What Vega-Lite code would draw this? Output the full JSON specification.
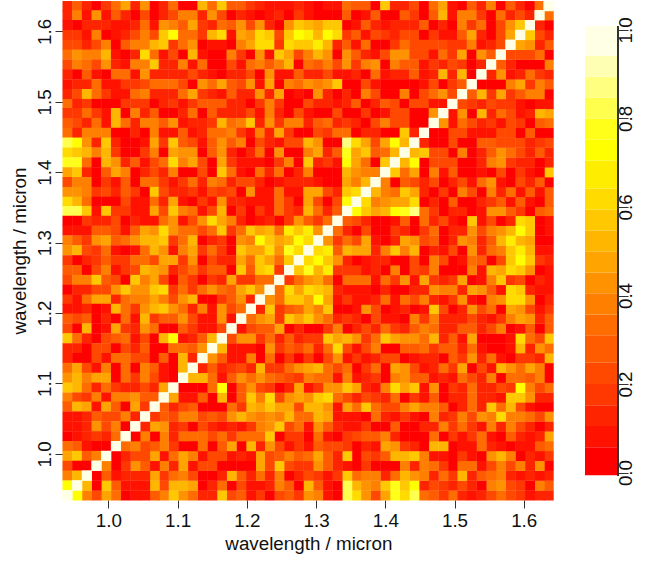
{"$schema":"https://vega.github.io/schema/vega-lite/v6.json","background":"white","padding":{"left":10,"top":1,"right":0,"bottom":0},"config":{"view":{"stroke":null},"font":"Liberation Sans"},"spacing":31,"hconcat":[{"width":490.7,"height":499,"data":{"values":[
{"a":941,"b":1636,"r":13},{"a":955,"b":1636,"r":28},{"a":969,"b":1636,"r":13},{"a":983,"b":1636,"r":3},{"a":997,"b":1636,"r":18},{"a":1011,"b":1636,"r":33},{"a":1025,"b":1636,"r":47},{"a":1039,"b":1636,"r":13},{"a":1053,"b":1636,"r":43},{"a":1067,"b":1636,"r":3},{"a":1080,"b":1636,"r":13},{"a":1094,"b":1636,"r":33},{"a":1108,"b":1636,"r":3},{"a":1122,"b":1636,"r":3},{"a":1136,"b":1636,"r":52},{"a":1150,"b":1636,"r":33},{"a":1164,"b":1636,"r":57},{"a":1178,"b":1636,"r":28},{"a":1192,"b":1636,"r":28},{"a":1206,"b":1636,"r":18},{"a":1219,"b":1636,"r":13},{"a":1233,"b":1636,"r":8},{"a":1247,"b":1636,"r":8},{"a":1261,"b":1636,"r":8},{"a":1275,"b":1636,"r":13},{"a":1289,"b":1636,"r":8},{"a":1303,"b":1636,"r":3},{"a":1317,"b":1636,"r":8},{"a":1331,"b":1636,"r":8},{"a":1345,"b":1636,"r":33},{"a":1358,"b":1636,"r":28},{"a":1372,"b":1636,"r":28},{"a":1386,"b":1636,"r":3},{"a":1400,"b":1636,"r":57},{"a":1414,"b":1636,"r":13},{"a":1428,"b":1636,"r":13},{"a":1442,"b":1636,"r":22},{"a":1456,"b":1636,"r":3},{"a":1470,"b":1636,"r":33},{"a":1484,"b":1636,"r":47},{"a":1497,"b":1636,"r":8},{"a":1511,"b":1636,"r":3},{"a":1525,"b":1636,"r":28},{"a":1539,"b":1636,"r":13},{"a":1553,"b":1636,"r":38},{"a":1567,"b":1636,"r":3},{"a":1581,"b":1636,"r":28},{"a":1595,"b":1636,"r":13},{"a":1609,"b":1636,"r":3},{"a":1623,"b":1636,"r":33},{"a":1636,"b":1636,"r":100},
{"a":941,"b":1623,"r":13},{"a":955,"b":1623,"r":38},{"a":969,"b":1623,"r":8},{"a":983,"b":1623,"r":43},{"a":997,"b":1623,"r":8},{"a":1011,"b":1623,"r":28},{"a":1025,"b":1623,"r":13},{"a":1039,"b":1623,"r":3},{"a":1053,"b":1623,"r":22},{"a":1067,"b":1623,"r":3},{"a":1080,"b":1623,"r":13},{"a":1094,"b":1623,"r":22},{"a":1108,"b":1623,"r":38},{"a":1122,"b":1623,"r":38},{"a":1136,"b":1623,"r":13},{"a":1150,"b":1623,"r":43},{"a":1164,"b":1623,"r":22},{"a":1178,"b":1623,"r":3},{"a":1192,"b":1623,"r":13},{"a":1206,"b":1623,"r":8},{"a":1219,"b":1623,"r":3},{"a":1233,"b":1623,"r":8},{"a":1247,"b":1623,"r":13},{"a":1261,"b":1623,"r":3},{"a":1275,"b":1623,"r":18},{"a":1289,"b":1623,"r":8},{"a":1303,"b":1623,"r":3},{"a":1317,"b":1623,"r":3},{"a":1331,"b":1623,"r":3},{"a":1345,"b":1623,"r":28},{"a":1358,"b":1623,"r":3},{"a":1372,"b":1623,"r":8},{"a":1386,"b":1623,"r":28},{"a":1400,"b":1623,"r":3},{"a":1414,"b":1623,"r":3},{"a":1428,"b":1623,"r":28},{"a":1442,"b":1623,"r":18},{"a":1456,"b":1623,"r":3},{"a":1470,"b":1623,"r":28},{"a":1484,"b":1623,"r":52},{"a":1497,"b":1623,"r":8},{"a":1511,"b":1623,"r":38},{"a":1525,"b":1623,"r":38},{"a":1539,"b":1623,"r":18},{"a":1553,"b":1623,"r":3},{"a":1567,"b":1623,"r":33},{"a":1581,"b":1623,"r":13},{"a":1595,"b":1623,"r":22},{"a":1609,"b":1623,"r":13},{"a":1623,"b":1623,"r":100},
{"a":941,"b":1609,"r":8},{"a":955,"b":1609,"r":3},{"a":969,"b":1609,"r":13},{"a":983,"b":1609,"r":13},{"a":997,"b":1609,"r":13},{"a":1011,"b":1609,"r":8},{"a":1025,"b":1609,"r":8},{"a":1039,"b":1609,"r":13},{"a":1053,"b":1609,"r":33},{"a":1067,"b":1609,"r":8},{"a":1080,"b":1609,"r":43},{"a":1094,"b":1609,"r":38},{"a":1108,"b":1609,"r":28},{"a":1122,"b":1609,"r":47},{"a":1136,"b":1609,"r":18},{"a":1150,"b":1609,"r":13},{"a":1164,"b":1609,"r":33},{"a":1178,"b":1609,"r":28},{"a":1192,"b":1609,"r":43},{"a":1206,"b":1609,"r":22},{"a":1219,"b":1609,"r":43},{"a":1233,"b":1609,"r":13},{"a":1247,"b":1609,"r":3},{"a":1261,"b":1609,"r":43},{"a":1275,"b":1609,"r":57},{"a":1289,"b":1609,"r":52},{"a":1303,"b":1609,"r":47},{"a":1317,"b":1609,"r":57},{"a":1331,"b":1609,"r":57},{"a":1345,"b":1609,"r":3},{"a":1358,"b":1609,"r":8},{"a":1372,"b":1609,"r":28},{"a":1386,"b":1609,"r":13},{"a":1400,"b":1609,"r":8},{"a":1414,"b":1609,"r":13},{"a":1428,"b":1609,"r":13},{"a":1442,"b":1609,"r":13},{"a":1456,"b":1609,"r":28},{"a":1470,"b":1609,"r":3},{"a":1484,"b":1609,"r":13},{"a":1497,"b":1609,"r":3},{"a":1511,"b":1609,"r":38},{"a":1525,"b":1609,"r":18},{"a":1539,"b":1609,"r":33},{"a":1553,"b":1609,"r":3},{"a":1567,"b":1609,"r":22},{"a":1581,"b":1609,"r":43},{"a":1595,"b":1609,"r":57},{"a":1609,"b":1609,"r":100},
{"a":941,"b":1595,"r":18},{"a":955,"b":1595,"r":18},{"a":969,"b":1595,"r":8},{"a":983,"b":1595,"r":38},{"a":997,"b":1595,"r":3},{"a":1011,"b":1595,"r":8},{"a":1025,"b":1595,"r":13},{"a":1039,"b":1595,"r":22},{"a":1053,"b":1595,"r":38},{"a":1067,"b":1595,"r":22},{"a":1080,"b":1595,"r":57},{"a":1094,"b":1595,"r":73},{"a":1108,"b":1595,"r":33},{"a":1122,"b":1595,"r":33},{"a":1136,"b":1595,"r":18},{"a":1150,"b":1595,"r":52},{"a":1164,"b":1595,"r":62},{"a":1178,"b":1595,"r":8},{"a":1192,"b":1595,"r":47},{"a":1206,"b":1595,"r":43},{"a":1219,"b":1595,"r":62},{"a":1233,"b":1595,"r":57},{"a":1247,"b":1595,"r":22},{"a":1261,"b":1595,"r":57},{"a":1275,"b":1595,"r":73},{"a":1289,"b":1595,"r":67},{"a":1303,"b":1595,"r":52},{"a":1317,"b":1595,"r":73},{"a":1331,"b":1595,"r":62},{"a":1345,"b":1595,"r":18},{"a":1358,"b":1595,"r":28},{"a":1372,"b":1595,"r":8},{"a":1386,"b":1595,"r":22},{"a":1400,"b":1595,"r":18},{"a":1414,"b":1595,"r":13},{"a":1428,"b":1595,"r":22},{"a":1442,"b":1595,"r":22},{"a":1456,"b":1595,"r":3},{"a":1470,"b":1595,"r":18},{"a":1484,"b":1595,"r":8},{"a":1497,"b":1595,"r":8},{"a":1511,"b":1595,"r":28},{"a":1525,"b":1595,"r":47},{"a":1539,"b":1595,"r":13},{"a":1553,"b":1595,"r":3},{"a":1567,"b":1595,"r":22},{"a":1581,"b":1595,"r":47},{"a":1595,"b":1595,"r":100},
{"a":941,"b":1581,"r":22},{"a":955,"b":1581,"r":22},{"a":969,"b":1581,"r":13},{"a":983,"b":1581,"r":22},{"a":997,"b":1581,"r":38},{"a":1011,"b":1581,"r":3},{"a":1025,"b":1581,"r":28},{"a":1039,"b":1581,"r":38},{"a":1053,"b":1581,"r":38},{"a":1067,"b":1581,"r":52},{"a":1080,"b":1581,"r":57},{"a":1094,"b":1581,"r":18},{"a":1108,"b":1581,"r":33},{"a":1122,"b":1581,"r":43},{"a":1136,"b":1581,"r":3},{"a":1150,"b":1581,"r":8},{"a":1164,"b":1581,"r":8},{"a":1178,"b":1581,"r":3},{"a":1192,"b":1581,"r":38},{"a":1206,"b":1581,"r":47},{"a":1219,"b":1581,"r":62},{"a":1233,"b":1581,"r":62},{"a":1247,"b":1581,"r":18},{"a":1261,"b":1581,"r":62},{"a":1275,"b":1581,"r":57},{"a":1289,"b":1581,"r":57},{"a":1303,"b":1581,"r":67},{"a":1317,"b":1581,"r":52},{"a":1331,"b":1581,"r":13},{"a":1345,"b":1581,"r":28},{"a":1358,"b":1581,"r":8},{"a":1372,"b":1581,"r":33},{"a":1386,"b":1581,"r":3},{"a":1400,"b":1581,"r":3},{"a":1414,"b":1581,"r":18},{"a":1428,"b":1581,"r":33},{"a":1442,"b":1581,"r":22},{"a":1456,"b":1581,"r":22},{"a":1470,"b":1581,"r":22},{"a":1484,"b":1581,"r":22},{"a":1497,"b":1581,"r":18},{"a":1511,"b":1581,"r":18},{"a":1525,"b":1581,"r":38},{"a":1539,"b":1581,"r":8},{"a":1553,"b":1581,"r":13},{"a":1567,"b":1581,"r":22},{"a":1581,"b":1581,"r":100},
{"a":941,"b":1567,"r":33},{"a":955,"b":1567,"r":43},{"a":969,"b":1567,"r":38},{"a":983,"b":1567,"r":38},{"a":997,"b":1567,"r":52},{"a":1011,"b":1567,"r":8},{"a":1025,"b":1567,"r":3},{"a":1039,"b":1567,"r":13},{"a":1053,"b":1567,"r":62},{"a":1067,"b":1567,"r":33},{"a":1080,"b":1567,"r":8},{"a":1094,"b":1567,"r":22},{"a":1108,"b":1567,"r":3},{"a":1122,"b":1567,"r":52},{"a":1136,"b":1567,"r":8},{"a":1150,"b":1567,"r":3},{"a":1164,"b":1567,"r":3},{"a":1178,"b":1567,"r":38},{"a":1192,"b":1567,"r":18},{"a":1206,"b":1567,"r":3},{"a":1219,"b":1567,"r":43},{"a":1233,"b":1567,"r":8},{"a":1247,"b":1567,"r":57},{"a":1261,"b":1567,"r":47},{"a":1275,"b":1567,"r":22},{"a":1289,"b":1567,"r":38},{"a":1303,"b":1567,"r":52},{"a":1317,"b":1567,"r":43},{"a":1331,"b":1567,"r":3},{"a":1345,"b":1567,"r":43},{"a":1358,"b":1567,"r":28},{"a":1372,"b":1567,"r":13},{"a":1386,"b":1567,"r":8},{"a":1400,"b":1567,"r":22},{"a":1414,"b":1567,"r":43},{"a":1428,"b":1567,"r":43},{"a":1442,"b":1567,"r":22},{"a":1456,"b":1567,"r":22},{"a":1470,"b":1567,"r":8},{"a":1484,"b":1567,"r":33},{"a":1497,"b":1567,"r":18},{"a":1511,"b":1567,"r":47},{"a":1525,"b":1567,"r":3},{"a":1539,"b":1567,"r":43},{"a":1553,"b":1567,"r":28},{"a":1567,"b":1567,"r":100},
{"a":941,"b":1553,"r":22},{"a":955,"b":1553,"r":38},{"a":969,"b":1553,"r":33},{"a":983,"b":1553,"r":22},{"a":997,"b":1553,"r":43},{"a":1011,"b":1553,"r":13},{"a":1025,"b":1553,"r":8},{"a":1039,"b":1553,"r":38},{"a":1053,"b":1553,"r":38},{"a":1067,"b":1553,"r":57},{"a":1080,"b":1553,"r":13},{"a":1094,"b":1553,"r":13},{"a":1108,"b":1553,"r":38},{"a":1122,"b":1553,"r":8},{"a":1136,"b":1553,"r":33},{"a":1150,"b":1553,"r":3},{"a":1164,"b":1553,"r":3},{"a":1178,"b":1553,"r":22},{"a":1192,"b":1553,"r":8},{"a":1206,"b":1553,"r":33},{"a":1219,"b":1553,"r":38},{"a":1233,"b":1553,"r":28},{"a":1247,"b":1553,"r":38},{"a":1261,"b":1553,"r":52},{"a":1275,"b":1553,"r":3},{"a":1289,"b":1553,"r":33},{"a":1303,"b":1553,"r":28},{"a":1317,"b":1553,"r":38},{"a":1331,"b":1553,"r":22},{"a":1345,"b":1553,"r":43},{"a":1358,"b":1553,"r":18},{"a":1372,"b":1553,"r":38},{"a":1386,"b":1553,"r":43},{"a":1400,"b":1553,"r":3},{"a":1414,"b":1553,"r":38},{"a":1428,"b":1553,"r":28},{"a":1442,"b":1553,"r":28},{"a":1456,"b":1553,"r":8},{"a":1470,"b":1553,"r":18},{"a":1484,"b":1553,"r":13},{"a":1497,"b":1553,"r":22},{"a":1511,"b":1553,"r":18},{"a":1525,"b":1553,"r":3},{"a":1539,"b":1553,"r":13},{"a":1553,"b":1553,"r":100},
{"a":941,"b":1539,"r":13},{"a":955,"b":1539,"r":3},{"a":969,"b":1539,"r":28},{"a":983,"b":1539,"r":8},{"a":997,"b":1539,"r":3},{"a":1011,"b":1539,"r":33},{"a":1025,"b":1539,"r":33},{"a":1039,"b":1539,"r":8},{"a":1053,"b":1539,"r":43},{"a":1067,"b":1539,"r":13},{"a":1080,"b":1539,"r":13},{"a":1094,"b":1539,"r":13},{"a":1108,"b":1539,"r":13},{"a":1122,"b":1539,"r":22},{"a":1136,"b":1539,"r":13},{"a":1150,"b":1539,"r":8},{"a":1164,"b":1539,"r":3},{"a":1178,"b":1539,"r":13},{"a":1192,"b":1539,"r":13},{"a":1206,"b":1539,"r":22},{"a":1219,"b":1539,"r":3},{"a":1233,"b":1539,"r":43},{"a":1247,"b":1539,"r":8},{"a":1261,"b":1539,"r":8},{"a":1275,"b":1539,"r":28},{"a":1289,"b":1539,"r":13},{"a":1303,"b":1539,"r":13},{"a":1317,"b":1539,"r":22},{"a":1331,"b":1539,"r":8},{"a":1345,"b":1539,"r":8},{"a":1358,"b":1539,"r":13},{"a":1372,"b":1539,"r":3},{"a":1386,"b":1539,"r":33},{"a":1400,"b":1539,"r":8},{"a":1414,"b":1539,"r":13},{"a":1428,"b":1539,"r":13},{"a":1442,"b":1539,"r":28},{"a":1456,"b":1539,"r":8},{"a":1470,"b":1539,"r":13},{"a":1484,"b":1539,"r":52},{"a":1497,"b":1539,"r":13},{"a":1511,"b":1539,"r":52},{"a":1525,"b":1539,"r":3},{"a":1539,"b":1539,"r":100},
{"a":941,"b":1525,"r":8},{"a":955,"b":1525,"r":13},{"a":969,"b":1525,"r":13},{"a":983,"b":1525,"r":33},{"a":997,"b":1525,"r":8},{"a":1011,"b":1525,"r":8},{"a":1025,"b":1525,"r":18},{"a":1039,"b":1525,"r":18},{"a":1053,"b":1525,"r":22},{"a":1067,"b":1525,"r":33},{"a":1080,"b":1525,"r":33},{"a":1094,"b":1525,"r":33},{"a":1108,"b":1525,"r":22},{"a":1122,"b":1525,"r":3},{"a":1136,"b":1525,"r":43},{"a":1150,"b":1525,"r":33},{"a":1164,"b":1525,"r":47},{"a":1178,"b":1525,"r":28},{"a":1192,"b":1525,"r":22},{"a":1206,"b":1525,"r":43},{"a":1219,"b":1525,"r":8},{"a":1233,"b":1525,"r":47},{"a":1247,"b":1525,"r":3},{"a":1261,"b":1525,"r":38},{"a":1275,"b":1525,"r":33},{"a":1289,"b":1525,"r":43},{"a":1303,"b":1525,"r":38},{"a":1317,"b":1525,"r":43},{"a":1331,"b":1525,"r":57},{"a":1345,"b":1525,"r":3},{"a":1358,"b":1525,"r":3},{"a":1372,"b":1525,"r":22},{"a":1386,"b":1525,"r":8},{"a":1400,"b":1525,"r":3},{"a":1414,"b":1525,"r":3},{"a":1428,"b":1525,"r":3},{"a":1442,"b":1525,"r":3},{"a":1456,"b":1525,"r":8},{"a":1470,"b":1525,"r":22},{"a":1484,"b":1525,"r":3},{"a":1497,"b":1525,"r":18},{"a":1511,"b":1525,"r":28},{"a":1525,"b":1525,"r":100},
{"a":941,"b":1511,"r":13},{"a":955,"b":1511,"r":22},{"a":969,"b":1511,"r":52},{"a":983,"b":1511,"r":33},{"a":997,"b":1511,"r":18},{"a":1011,"b":1511,"r":8},{"a":1025,"b":1511,"r":8},{"a":1039,"b":1511,"r":33},{"a":1053,"b":1511,"r":38},{"a":1067,"b":1511,"r":13},{"a":1080,"b":1511,"r":13},{"a":1094,"b":1511,"r":13},{"a":1108,"b":1511,"r":33},{"a":1122,"b":1511,"r":47},{"a":1136,"b":1511,"r":18},{"a":1150,"b":1511,"r":13},{"a":1164,"b":1511,"r":8},{"a":1178,"b":1511,"r":28},{"a":1192,"b":1511,"r":13},{"a":1206,"b":1511,"r":13},{"a":1219,"b":1511,"r":43},{"a":1233,"b":1511,"r":13},{"a":1247,"b":1511,"r":47},{"a":1261,"b":1511,"r":3},{"a":1275,"b":1511,"r":8},{"a":1289,"b":1511,"r":3},{"a":1303,"b":1511,"r":43},{"a":1317,"b":1511,"r":13},{"a":1331,"b":1511,"r":3},{"a":1345,"b":1511,"r":13},{"a":1358,"b":1511,"r":3},{"a":1372,"b":1511,"r":38},{"a":1386,"b":1511,"r":22},{"a":1400,"b":1511,"r":3},{"a":1414,"b":1511,"r":3},{"a":1428,"b":1511,"r":38},{"a":1442,"b":1511,"r":3},{"a":1456,"b":1511,"r":22},{"a":1470,"b":1511,"r":33},{"a":1484,"b":1511,"r":43},{"a":1497,"b":1511,"r":22},{"a":1511,"b":1511,"r":100},
{"a":941,"b":1497,"r":33},{"a":955,"b":1497,"r":13},{"a":969,"b":1497,"r":18},{"a":983,"b":1497,"r":3},{"a":997,"b":1497,"r":3},{"a":1011,"b":1497,"r":3},{"a":1025,"b":1497,"r":18},{"a":1039,"b":1497,"r":18},{"a":1053,"b":1497,"r":18},{"a":1067,"b":1497,"r":3},{"a":1080,"b":1497,"r":13},{"a":1094,"b":1497,"r":18},{"a":1108,"b":1497,"r":8},{"a":1122,"b":1497,"r":18},{"a":1136,"b":1497,"r":28},{"a":1150,"b":1497,"r":28},{"a":1164,"b":1497,"r":28},{"a":1178,"b":1497,"r":13},{"a":1192,"b":1497,"r":13},{"a":1206,"b":1497,"r":3},{"a":1219,"b":1497,"r":18},{"a":1233,"b":1497,"r":38},{"a":1247,"b":1497,"r":18},{"a":1261,"b":1497,"r":3},{"a":1275,"b":1497,"r":3},{"a":1289,"b":1497,"r":22},{"a":1303,"b":1497,"r":13},{"a":1317,"b":1497,"r":13},{"a":1331,"b":1497,"r":8},{"a":1345,"b":1497,"r":13},{"a":1358,"b":1497,"r":28},{"a":1372,"b":1497,"r":3},{"a":1386,"b":1497,"r":13},{"a":1400,"b":1497,"r":28},{"a":1414,"b":1497,"r":22},{"a":1428,"b":1497,"r":3},{"a":1442,"b":1497,"r":22},{"a":1456,"b":1497,"r":22},{"a":1470,"b":1497,"r":8},{"a":1484,"b":1497,"r":8},{"a":1497,"b":1497,"r":100},
{"a":941,"b":1484,"r":18},{"a":955,"b":1484,"r":18},{"a":969,"b":1484,"r":33},{"a":983,"b":1484,"r":18},{"a":997,"b":1484,"r":8},{"a":1011,"b":1484,"r":52},{"a":1025,"b":1484,"r":3},{"a":1039,"b":1484,"r":38},{"a":1053,"b":1484,"r":13},{"a":1067,"b":1484,"r":28},{"a":1080,"b":1484,"r":3},{"a":1094,"b":1484,"r":3},{"a":1108,"b":1484,"r":13},{"a":1122,"b":1484,"r":33},{"a":1136,"b":1484,"r":3},{"a":1150,"b":1484,"r":28},{"a":1164,"b":1484,"r":13},{"a":1178,"b":1484,"r":13},{"a":1192,"b":1484,"r":13},{"a":1206,"b":1484,"r":22},{"a":1219,"b":1484,"r":8},{"a":1233,"b":1484,"r":38},{"a":1247,"b":1484,"r":13},{"a":1261,"b":1484,"r":3},{"a":1275,"b":1484,"r":22},{"a":1289,"b":1484,"r":8},{"a":1303,"b":1484,"r":3},{"a":1317,"b":1484,"r":3},{"a":1331,"b":1484,"r":22},{"a":1345,"b":1484,"r":3},{"a":1358,"b":1484,"r":3},{"a":1372,"b":1484,"r":18},{"a":1386,"b":1484,"r":3},{"a":1400,"b":1484,"r":8},{"a":1414,"b":1484,"r":22},{"a":1428,"b":1484,"r":22},{"a":1442,"b":1484,"r":3},{"a":1456,"b":1484,"r":3},{"a":1470,"b":1484,"r":43},{"a":1484,"b":1484,"r":100},
{"a":941,"b":1470,"r":28},{"a":955,"b":1470,"r":22},{"a":969,"b":1470,"r":13},{"a":983,"b":1470,"r":33},{"a":997,"b":1470,"r":8},{"a":1011,"b":1470,"r":52},{"a":1025,"b":1470,"r":33},{"a":1039,"b":1470,"r":13},{"a":1053,"b":1470,"r":38},{"a":1067,"b":1470,"r":38},{"a":1080,"b":1470,"r":28},{"a":1094,"b":1470,"r":43},{"a":1108,"b":1470,"r":8},{"a":1122,"b":1470,"r":13},{"a":1136,"b":1470,"r":13},{"a":1150,"b":1470,"r":18},{"a":1164,"b":1470,"r":52},{"a":1178,"b":1470,"r":33},{"a":1192,"b":1470,"r":38},{"a":1206,"b":1470,"r":57},{"a":1219,"b":1470,"r":13},{"a":1233,"b":1470,"r":43},{"a":1247,"b":1470,"r":18},{"a":1261,"b":1470,"r":38},{"a":1275,"b":1470,"r":38},{"a":1289,"b":1470,"r":13},{"a":1303,"b":1470,"r":28},{"a":1317,"b":1470,"r":33},{"a":1331,"b":1470,"r":13},{"a":1345,"b":1470,"r":18},{"a":1358,"b":1470,"r":13},{"a":1372,"b":1470,"r":3},{"a":1386,"b":1470,"r":22},{"a":1400,"b":1470,"r":38},{"a":1414,"b":1470,"r":22},{"a":1428,"b":1470,"r":22},{"a":1442,"b":1470,"r":3},{"a":1456,"b":1470,"r":3},{"a":1470,"b":1470,"r":100},
{"a":941,"b":1456,"r":33},{"a":955,"b":1456,"r":13},{"a":969,"b":1456,"r":38},{"a":983,"b":1456,"r":38},{"a":997,"b":1456,"r":38},{"a":1011,"b":1456,"r":3},{"a":1025,"b":1456,"r":3},{"a":1039,"b":1456,"r":13},{"a":1053,"b":1456,"r":3},{"a":1067,"b":1456,"r":38},{"a":1080,"b":1456,"r":8},{"a":1094,"b":1456,"r":8},{"a":1108,"b":1456,"r":28},{"a":1122,"b":1456,"r":8},{"a":1136,"b":1456,"r":13},{"a":1150,"b":1456,"r":33},{"a":1164,"b":1456,"r":33},{"a":1178,"b":1456,"r":38},{"a":1192,"b":1456,"r":18},{"a":1206,"b":1456,"r":8},{"a":1219,"b":1456,"r":38},{"a":1233,"b":1456,"r":13},{"a":1247,"b":1456,"r":47},{"a":1261,"b":1456,"r":18},{"a":1275,"b":1456,"r":3},{"a":1289,"b":1456,"r":3},{"a":1303,"b":1456,"r":22},{"a":1317,"b":1456,"r":18},{"a":1331,"b":1456,"r":33},{"a":1345,"b":1456,"r":33},{"a":1358,"b":1456,"r":3},{"a":1372,"b":1456,"r":13},{"a":1386,"b":1456,"r":13},{"a":1400,"b":1456,"r":3},{"a":1414,"b":1456,"r":3},{"a":1428,"b":1456,"r":57},{"a":1442,"b":1456,"r":13},{"a":1456,"b":1456,"r":100},
{"a":941,"b":1442,"r":82},{"a":955,"b":1442,"r":73},{"a":969,"b":1442,"r":43},{"a":983,"b":1442,"r":13},{"a":997,"b":1442,"r":57},{"a":1011,"b":1442,"r":13},{"a":1025,"b":1442,"r":3},{"a":1039,"b":1442,"r":3},{"a":1053,"b":1442,"r":8},{"a":1067,"b":1442,"r":47},{"a":1080,"b":1442,"r":18},{"a":1094,"b":1442,"r":57},{"a":1108,"b":1442,"r":28},{"a":1122,"b":1442,"r":22},{"a":1136,"b":1442,"r":8},{"a":1150,"b":1442,"r":28},{"a":1164,"b":1442,"r":43},{"a":1178,"b":1442,"r":28},{"a":1192,"b":1442,"r":38},{"a":1206,"b":1442,"r":3},{"a":1219,"b":1442,"r":22},{"a":1233,"b":1442,"r":13},{"a":1247,"b":1442,"r":8},{"a":1261,"b":1442,"r":22},{"a":1275,"b":1442,"r":22},{"a":1289,"b":1442,"r":52},{"a":1303,"b":1442,"r":43},{"a":1317,"b":1442,"r":3},{"a":1331,"b":1442,"r":3},{"a":1345,"b":1442,"r":87},{"a":1358,"b":1442,"r":62},{"a":1372,"b":1442,"r":47},{"a":1386,"b":1442,"r":22},{"a":1400,"b":1442,"r":47},{"a":1414,"b":1442,"r":73},{"a":1428,"b":1442,"r":52},{"a":1442,"b":1442,"r":100},
{"a":941,"b":1428,"r":62},{"a":955,"b":1428,"r":57},{"a":969,"b":1428,"r":52},{"a":983,"b":1428,"r":38},{"a":997,"b":1428,"r":52},{"a":1011,"b":1428,"r":18},{"a":1025,"b":1428,"r":3},{"a":1039,"b":1428,"r":3},{"a":1053,"b":1428,"r":18},{"a":1067,"b":1428,"r":38},{"a":1080,"b":1428,"r":3},{"a":1094,"b":1428,"r":47},{"a":1108,"b":1428,"r":43},{"a":1122,"b":1428,"r":43},{"a":1136,"b":1428,"r":3},{"a":1150,"b":1428,"r":28},{"a":1164,"b":1428,"r":43},{"a":1178,"b":1428,"r":13},{"a":1192,"b":1428,"r":3},{"a":1206,"b":1428,"r":13},{"a":1219,"b":1428,"r":33},{"a":1233,"b":1428,"r":3},{"a":1247,"b":1428,"r":43},{"a":1261,"b":1428,"r":3},{"a":1275,"b":1428,"r":3},{"a":1289,"b":1428,"r":38},{"a":1303,"b":1428,"r":47},{"a":1317,"b":1428,"r":13},{"a":1331,"b":1428,"r":28},{"a":1345,"b":1428,"r":78},{"a":1358,"b":1428,"r":47},{"a":1372,"b":1428,"r":57},{"a":1386,"b":1428,"r":28},{"a":1400,"b":1428,"r":33},{"a":1414,"b":1428,"r":52},{"a":1428,"b":1428,"r":100},
{"a":941,"b":1414,"r":78},{"a":955,"b":1414,"r":78},{"a":969,"b":1414,"r":33},{"a":983,"b":1414,"r":3},{"a":997,"b":1414,"r":52},{"a":1011,"b":1414,"r":43},{"a":1025,"b":1414,"r":13},{"a":1039,"b":1414,"r":28},{"a":1053,"b":1414,"r":8},{"a":1067,"b":1414,"r":22},{"a":1080,"b":1414,"r":33},{"a":1094,"b":1414,"r":62},{"a":1108,"b":1414,"r":38},{"a":1122,"b":1414,"r":47},{"a":1136,"b":1414,"r":22},{"a":1150,"b":1414,"r":3},{"a":1164,"b":1414,"r":47},{"a":1178,"b":1414,"r":18},{"a":1192,"b":1414,"r":8},{"a":1206,"b":1414,"r":8},{"a":1219,"b":1414,"r":8},{"a":1233,"b":1414,"r":3},{"a":1247,"b":1414,"r":18},{"a":1261,"b":1414,"r":38},{"a":1275,"b":1414,"r":3},{"a":1289,"b":1414,"r":57},{"a":1303,"b":1414,"r":13},{"a":1317,"b":1414,"r":18},{"a":1331,"b":1414,"r":8},{"a":1345,"b":1414,"r":73},{"a":1358,"b":1414,"r":47},{"a":1372,"b":1414,"r":33},{"a":1386,"b":1414,"r":3},{"a":1400,"b":1414,"r":57},{"a":1414,"b":1414,"r":100},
{"a":941,"b":1400,"r":47},{"a":955,"b":1400,"r":57},{"a":969,"b":1400,"r":13},{"a":983,"b":1400,"r":3},{"a":997,"b":1400,"r":28},{"a":1011,"b":1400,"r":47},{"a":1025,"b":1400,"r":38},{"a":1039,"b":1400,"r":3},{"a":1053,"b":1400,"r":13},{"a":1067,"b":1400,"r":22},{"a":1080,"b":1400,"r":13},{"a":1094,"b":1400,"r":38},{"a":1108,"b":1400,"r":3},{"a":1122,"b":1400,"r":3},{"a":1136,"b":1400,"r":22},{"a":1150,"b":1400,"r":3},{"a":1164,"b":1400,"r":57},{"a":1178,"b":1400,"r":33},{"a":1192,"b":1400,"r":8},{"a":1206,"b":1400,"r":3},{"a":1219,"b":1400,"r":33},{"a":1233,"b":1400,"r":13},{"a":1247,"b":1400,"r":33},{"a":1261,"b":1400,"r":3},{"a":1275,"b":1400,"r":13},{"a":1289,"b":1400,"r":38},{"a":1303,"b":1400,"r":3},{"a":1317,"b":1400,"r":3},{"a":1331,"b":1400,"r":3},{"a":1345,"b":1400,"r":52},{"a":1358,"b":1400,"r":43},{"a":1372,"b":1400,"r":38},{"a":1386,"b":1400,"r":38},{"a":1400,"b":1400,"r":100},
{"a":941,"b":1386,"r":22},{"a":955,"b":1386,"r":38},{"a":969,"b":1386,"r":38},{"a":983,"b":1386,"r":3},{"a":997,"b":1386,"r":18},{"a":1011,"b":1386,"r":8},{"a":1025,"b":1386,"r":28},{"a":1039,"b":1386,"r":3},{"a":1053,"b":1386,"r":33},{"a":1067,"b":1386,"r":33},{"a":1080,"b":1386,"r":18},{"a":1094,"b":1386,"r":8},{"a":1108,"b":1386,"r":18},{"a":1122,"b":1386,"r":33},{"a":1136,"b":1386,"r":13},{"a":1150,"b":1386,"r":38},{"a":1164,"b":1386,"r":33},{"a":1178,"b":1386,"r":13},{"a":1192,"b":1386,"r":22},{"a":1206,"b":1386,"r":22},{"a":1219,"b":1386,"r":13},{"a":1233,"b":1386,"r":3},{"a":1247,"b":1386,"r":8},{"a":1261,"b":1386,"r":13},{"a":1275,"b":1386,"r":13},{"a":1289,"b":1386,"r":13},{"a":1303,"b":1386,"r":8},{"a":1317,"b":1386,"r":3},{"a":1331,"b":1386,"r":3},{"a":1345,"b":1386,"r":47},{"a":1358,"b":1386,"r":38},{"a":1372,"b":1386,"r":52},{"a":1386,"b":1386,"r":100},
{"a":941,"b":1372,"r":43},{"a":955,"b":1372,"r":43},{"a":969,"b":1372,"r":38},{"a":983,"b":1372,"r":18},{"a":997,"b":1372,"r":22},{"a":1011,"b":1372,"r":13},{"a":1025,"b":1372,"r":28},{"a":1039,"b":1372,"r":18},{"a":1053,"b":1372,"r":3},{"a":1067,"b":1372,"r":57},{"a":1080,"b":1372,"r":22},{"a":1094,"b":1372,"r":13},{"a":1108,"b":1372,"r":13},{"a":1122,"b":1372,"r":18},{"a":1136,"b":1372,"r":8},{"a":1150,"b":1372,"r":22},{"a":1164,"b":1372,"r":18},{"a":1178,"b":1372,"r":22},{"a":1192,"b":1372,"r":3},{"a":1206,"b":1372,"r":43},{"a":1219,"b":1372,"r":8},{"a":1233,"b":1372,"r":8},{"a":1247,"b":1372,"r":33},{"a":1261,"b":1372,"r":8},{"a":1275,"b":1372,"r":8},{"a":1289,"b":1372,"r":47},{"a":1303,"b":1372,"r":47},{"a":1317,"b":1372,"r":22},{"a":1331,"b":1372,"r":13},{"a":1345,"b":1372,"r":57},{"a":1358,"b":1372,"r":62},{"a":1372,"b":1372,"r":100},
{"a":941,"b":1358,"r":62},{"a":955,"b":1358,"r":52},{"a":969,"b":1358,"r":33},{"a":983,"b":1358,"r":3},{"a":997,"b":1358,"r":3},{"a":1011,"b":1358,"r":3},{"a":1025,"b":1358,"r":22},{"a":1039,"b":1358,"r":8},{"a":1053,"b":1358,"r":8},{"a":1067,"b":1358,"r":33},{"a":1080,"b":1358,"r":13},{"a":1094,"b":1358,"r":47},{"a":1108,"b":1358,"r":8},{"a":1122,"b":1358,"r":3},{"a":1136,"b":1358,"r":18},{"a":1150,"b":1358,"r":8},{"a":1164,"b":1358,"r":43},{"a":1178,"b":1358,"r":13},{"a":1192,"b":1358,"r":13},{"a":1206,"b":1358,"r":8},{"a":1219,"b":1358,"r":8},{"a":1233,"b":1358,"r":8},{"a":1247,"b":1358,"r":33},{"a":1261,"b":1358,"r":18},{"a":1275,"b":1358,"r":3},{"a":1289,"b":1358,"r":47},{"a":1303,"b":1358,"r":22},{"a":1317,"b":1358,"r":3},{"a":1331,"b":1358,"r":22},{"a":1345,"b":1358,"r":73},{"a":1358,"b":1358,"r":100},
{"a":941,"b":1345,"r":82},{"a":955,"b":1345,"r":82},{"a":969,"b":1345,"r":57},{"a":983,"b":1345,"r":8},{"a":997,"b":1345,"r":57},{"a":1011,"b":1345,"r":18},{"a":1025,"b":1345,"r":18},{"a":1039,"b":1345,"r":8},{"a":1053,"b":1345,"r":8},{"a":1067,"b":1345,"r":47},{"a":1080,"b":1345,"r":22},{"a":1094,"b":1345,"r":57},{"a":1108,"b":1345,"r":38},{"a":1122,"b":1345,"r":33},{"a":1136,"b":1345,"r":8},{"a":1150,"b":1345,"r":22},{"a":1164,"b":1345,"r":52},{"a":1178,"b":1345,"r":3},{"a":1192,"b":1345,"r":18},{"a":1206,"b":1345,"r":3},{"a":1219,"b":1345,"r":18},{"a":1233,"b":1345,"r":8},{"a":1247,"b":1345,"r":33},{"a":1261,"b":1345,"r":18},{"a":1275,"b":1345,"r":13},{"a":1289,"b":1345,"r":52},{"a":1303,"b":1345,"r":33},{"a":1317,"b":1345,"r":13},{"a":1331,"b":1345,"r":28},{"a":1345,"b":1345,"r":100},
{"a":941,"b":1331,"r":3},{"a":955,"b":1331,"r":3},{"a":969,"b":1331,"r":18},{"a":983,"b":1331,"r":13},{"a":997,"b":1331,"r":13},{"a":1011,"b":1331,"r":22},{"a":1025,"b":1331,"r":3},{"a":1039,"b":1331,"r":13},{"a":1053,"b":1331,"r":8},{"a":1067,"b":1331,"r":8},{"a":1080,"b":1331,"r":33},{"a":1094,"b":1331,"r":43},{"a":1108,"b":1331,"r":8},{"a":1122,"b":1331,"r":22},{"a":1136,"b":1331,"r":43},{"a":1150,"b":1331,"r":62},{"a":1164,"b":1331,"r":47},{"a":1178,"b":1331,"r":38},{"a":1192,"b":1331,"r":13},{"a":1206,"b":1331,"r":3},{"a":1219,"b":1331,"r":8},{"a":1233,"b":1331,"r":13},{"a":1247,"b":1331,"r":3},{"a":1261,"b":1331,"r":18},{"a":1275,"b":1331,"r":43},{"a":1289,"b":1331,"r":28},{"a":1303,"b":1331,"r":18},{"a":1317,"b":1331,"r":33},{"a":1331,"b":1331,"r":100},
{"a":941,"b":1317,"r":8},{"a":955,"b":1317,"r":8},{"a":969,"b":1317,"r":8},{"a":983,"b":1317,"r":28},{"a":997,"b":1317,"r":28},{"a":1011,"b":1317,"r":22},{"a":1025,"b":1317,"r":8},{"a":1039,"b":1317,"r":28},{"a":1053,"b":1317,"r":47},{"a":1067,"b":1317,"r":43},{"a":1080,"b":1317,"r":62},{"a":1094,"b":1317,"r":43},{"a":1108,"b":1317,"r":33},{"a":1122,"b":1317,"r":33},{"a":1136,"b":1317,"r":22},{"a":1150,"b":1317,"r":33},{"a":1164,"b":1317,"r":57},{"a":1178,"b":1317,"r":18},{"a":1192,"b":1317,"r":33},{"a":1206,"b":1317,"r":57},{"a":1219,"b":1317,"r":47},{"a":1233,"b":1317,"r":52},{"a":1247,"b":1317,"r":33},{"a":1261,"b":1317,"r":67},{"a":1275,"b":1317,"r":57},{"a":1289,"b":1317,"r":67},{"a":1303,"b":1317,"r":43},{"a":1317,"b":1317,"r":100},
{"a":941,"b":1303,"r":38},{"a":955,"b":1303,"r":28},{"a":969,"b":1303,"r":18},{"a":983,"b":1303,"r":43},{"a":997,"b":1303,"r":47},{"a":1011,"b":1303,"r":28},{"a":1025,"b":1303,"r":33},{"a":1039,"b":1303,"r":43},{"a":1053,"b":1303,"r":52},{"a":1067,"b":1303,"r":52},{"a":1080,"b":1303,"r":57},{"a":1094,"b":1303,"r":18},{"a":1108,"b":1303,"r":33},{"a":1122,"b":1303,"r":52},{"a":1136,"b":1303,"r":3},{"a":1150,"b":1303,"r":13},{"a":1164,"b":1303,"r":18},{"a":1178,"b":1303,"r":3},{"a":1192,"b":1303,"r":43},{"a":1206,"b":1303,"r":38},{"a":1219,"b":1303,"r":73},{"a":1233,"b":1303,"r":57},{"a":1247,"b":1303,"r":47},{"a":1261,"b":1303,"r":52},{"a":1275,"b":1303,"r":73},{"a":1289,"b":1303,"r":62},{"a":1303,"b":1303,"r":100},
{"a":941,"b":1289,"r":43},{"a":955,"b":1289,"r":52},{"a":969,"b":1289,"r":22},{"a":983,"b":1289,"r":18},{"a":997,"b":1289,"r":33},{"a":1011,"b":1289,"r":8},{"a":1025,"b":1289,"r":3},{"a":1039,"b":1289,"r":8},{"a":1053,"b":1289,"r":33},{"a":1067,"b":1289,"r":52},{"a":1080,"b":1289,"r":43},{"a":1094,"b":1289,"r":8},{"a":1108,"b":1289,"r":38},{"a":1122,"b":1289,"r":47},{"a":1136,"b":1289,"r":18},{"a":1150,"b":1289,"r":33},{"a":1164,"b":1289,"r":18},{"a":1178,"b":1289,"r":3},{"a":1192,"b":1289,"r":57},{"a":1206,"b":1289,"r":47},{"a":1219,"b":1289,"r":47},{"a":1233,"b":1289,"r":62},{"a":1247,"b":1289,"r":43},{"a":1261,"b":1289,"r":78},{"a":1275,"b":1289,"r":62},{"a":1289,"b":1289,"r":100},
{"a":941,"b":1275,"r":18},{"a":955,"b":1275,"r":3},{"a":969,"b":1275,"r":13},{"a":983,"b":1275,"r":18},{"a":997,"b":1275,"r":28},{"a":1011,"b":1275,"r":18},{"a":1025,"b":1275,"r":18},{"a":1039,"b":1275,"r":33},{"a":1053,"b":1275,"r":33},{"a":1067,"b":1275,"r":22},{"a":1080,"b":1275,"r":47},{"a":1094,"b":1275,"r":47},{"a":1108,"b":1275,"r":18},{"a":1122,"b":1275,"r":43},{"a":1136,"b":1275,"r":3},{"a":1150,"b":1275,"r":22},{"a":1164,"b":1275,"r":13},{"a":1178,"b":1275,"r":13},{"a":1192,"b":1275,"r":47},{"a":1206,"b":1275,"r":33},{"a":1219,"b":1275,"r":57},{"a":1233,"b":1275,"r":47},{"a":1247,"b":1275,"r":33},{"a":1261,"b":1275,"r":57},{"a":1275,"b":1275,"r":100},
{"a":941,"b":1261,"r":28},{"a":955,"b":1261,"r":28},{"a":969,"b":1261,"r":3},{"a":983,"b":1261,"r":22},{"a":997,"b":1261,"r":38},{"a":1011,"b":1261,"r":8},{"a":1025,"b":1261,"r":18},{"a":1039,"b":1261,"r":22},{"a":1053,"b":1261,"r":52},{"a":1067,"b":1261,"r":47},{"a":1080,"b":1261,"r":43},{"a":1094,"b":1261,"r":13},{"a":1108,"b":1261,"r":22},{"a":1122,"b":1261,"r":33},{"a":1136,"b":1261,"r":18},{"a":1150,"b":1261,"r":28},{"a":1164,"b":1261,"r":28},{"a":1178,"b":1261,"r":3},{"a":1192,"b":1261,"r":57},{"a":1206,"b":1261,"r":28},{"a":1219,"b":1261,"r":57},{"a":1233,"b":1261,"r":62},{"a":1247,"b":1261,"r":18},{"a":1261,"b":1261,"r":100},
{"a":941,"b":1247,"r":22},{"a":955,"b":1247,"r":38},{"a":969,"b":1247,"r":38},{"a":983,"b":1247,"r":57},{"a":997,"b":1247,"r":28},{"a":1011,"b":1247,"r":22},{"a":1025,"b":1247,"r":3},{"a":1039,"b":1247,"r":57},{"a":1053,"b":1247,"r":38},{"a":1067,"b":1247,"r":47},{"a":1080,"b":1247,"r":22},{"a":1094,"b":1247,"r":3},{"a":1108,"b":1247,"r":28},{"a":1122,"b":1247,"r":18},{"a":1136,"b":1247,"r":3},{"a":1150,"b":1247,"r":18},{"a":1164,"b":1247,"r":13},{"a":1178,"b":1247,"r":47},{"a":1192,"b":1247,"r":18},{"a":1206,"b":1247,"r":18},{"a":1219,"b":1247,"r":33},{"a":1233,"b":1247,"r":33},{"a":1247,"b":1247,"r":100},
{"a":941,"b":1233,"r":3},{"a":955,"b":1233,"r":13},{"a":969,"b":1233,"r":13},{"a":983,"b":1233,"r":22},{"a":997,"b":1233,"r":22},{"a":1011,"b":1233,"r":43},{"a":1025,"b":1233,"r":57},{"a":1039,"b":1233,"r":43},{"a":1053,"b":1233,"r":43},{"a":1067,"b":1233,"r":57},{"a":1080,"b":1233,"r":62},{"a":1094,"b":1233,"r":18},{"a":1108,"b":1233,"r":33},{"a":1122,"b":1233,"r":18},{"a":1136,"b":1233,"r":33},{"a":1150,"b":1233,"r":43},{"a":1164,"b":1233,"r":33},{"a":1178,"b":1233,"r":28},{"a":1192,"b":1233,"r":47},{"a":1206,"b":1233,"r":57},{"a":1219,"b":1233,"r":43},{"a":1233,"b":1233,"r":100},
{"a":941,"b":1219,"r":18},{"a":955,"b":1219,"r":8},{"a":969,"b":1219,"r":33},{"a":983,"b":1219,"r":47},{"a":997,"b":1219,"r":47},{"a":1011,"b":1219,"r":13},{"a":1025,"b":1219,"r":33},{"a":1039,"b":1219,"r":38},{"a":1053,"b":1219,"r":38},{"a":1067,"b":1219,"r":47},{"a":1080,"b":1219,"r":38},{"a":1094,"b":1219,"r":22},{"a":1108,"b":1219,"r":43},{"a":1122,"b":1219,"r":52},{"a":1136,"b":1219,"r":3},{"a":1150,"b":1219,"r":3},{"a":1164,"b":1219,"r":18},{"a":1178,"b":1219,"r":28},{"a":1192,"b":1219,"r":43},{"a":1206,"b":1219,"r":13},{"a":1219,"b":1219,"r":100},
{"a":941,"b":1206,"r":8},{"a":955,"b":1206,"r":8},{"a":969,"b":1206,"r":13},{"a":983,"b":1206,"r":3},{"a":997,"b":1206,"r":8},{"a":1011,"b":1206,"r":52},{"a":1025,"b":1206,"r":33},{"a":1039,"b":1206,"r":18},{"a":1053,"b":1206,"r":43},{"a":1067,"b":1206,"r":52},{"a":1080,"b":1206,"r":57},{"a":1094,"b":1206,"r":43},{"a":1108,"b":1206,"r":33},{"a":1122,"b":1206,"r":13},{"a":1136,"b":1206,"r":38},{"a":1150,"b":1206,"r":8},{"a":1164,"b":1206,"r":43},{"a":1178,"b":1206,"r":22},{"a":1192,"b":1206,"r":33},{"a":1206,"b":1206,"r":100},
{"a":941,"b":1192,"r":28},{"a":955,"b":1192,"r":22},{"a":969,"b":1192,"r":28},{"a":983,"b":1192,"r":3},{"a":997,"b":1192,"r":13},{"a":1011,"b":1192,"r":3},{"a":1025,"b":1192,"r":33},{"a":1039,"b":1192,"r":8},{"a":1053,"b":1192,"r":52},{"a":1067,"b":1192,"r":18},{"a":1080,"b":1192,"r":28},{"a":1094,"b":1192,"r":28},{"a":1108,"b":1192,"r":43},{"a":1122,"b":1192,"r":22},{"a":1136,"b":1192,"r":8},{"a":1150,"b":1192,"r":8},{"a":1164,"b":1192,"r":43},{"a":1178,"b":1192,"r":8},{"a":1192,"b":1192,"r":100},
{"a":941,"b":1178,"r":22},{"a":955,"b":1178,"r":3},{"a":969,"b":1178,"r":52},{"a":983,"b":1178,"r":3},{"a":997,"b":1178,"r":8},{"a":1011,"b":1178,"r":47},{"a":1025,"b":1178,"r":18},{"a":1039,"b":1178,"r":13},{"a":1053,"b":1178,"r":43},{"a":1067,"b":1178,"r":33},{"a":1080,"b":1178,"r":3},{"a":1094,"b":1178,"r":3},{"a":1108,"b":1178,"r":28},{"a":1122,"b":1178,"r":18},{"a":1136,"b":1178,"r":8},{"a":1150,"b":1178,"r":8},{"a":1164,"b":1178,"r":22},{"a":1178,"b":1178,"r":100},
{"a":941,"b":1164,"r":57},{"a":955,"b":1164,"r":33},{"a":969,"b":1164,"r":13},{"a":983,"b":1164,"r":3},{"a":997,"b":1164,"r":22},{"a":1011,"b":1164,"r":28},{"a":1025,"b":1164,"r":33},{"a":1039,"b":1164,"r":8},{"a":1053,"b":1164,"r":22},{"a":1067,"b":1164,"r":3},{"a":1080,"b":1164,"r":52},{"a":1094,"b":1164,"r":73},{"a":1108,"b":1164,"r":8},{"a":1122,"b":1164,"r":13},{"a":1136,"b":1164,"r":28},{"a":1150,"b":1164,"r":52},{"a":1164,"b":1164,"r":100},
{"a":941,"b":1150,"r":13},{"a":955,"b":1150,"r":13},{"a":969,"b":1150,"r":3},{"a":983,"b":1150,"r":22},{"a":997,"b":1150,"r":22},{"a":1011,"b":1150,"r":3},{"a":1025,"b":1150,"r":22},{"a":1039,"b":1150,"r":13},{"a":1053,"b":1150,"r":28},{"a":1067,"b":1150,"r":3},{"a":1080,"b":1150,"r":3},{"a":1094,"b":1150,"r":33},{"a":1108,"b":1150,"r":33},{"a":1122,"b":1150,"r":28},{"a":1136,"b":1150,"r":43},{"a":1150,"b":1150,"r":100},
{"a":941,"b":1136,"r":13},{"a":955,"b":1136,"r":3},{"a":969,"b":1136,"r":3},{"a":983,"b":1136,"r":22},{"a":997,"b":1136,"r":8},{"a":1011,"b":1136,"r":33},{"a":1025,"b":1136,"r":33},{"a":1039,"b":1136,"r":22},{"a":1053,"b":1136,"r":22},{"a":1067,"b":1136,"r":3},{"a":1080,"b":1136,"r":28},{"a":1094,"b":1136,"r":3},{"a":1108,"b":1136,"r":52},{"a":1122,"b":1136,"r":13},{"a":1136,"b":1136,"r":100},
{"a":941,"b":1122,"r":33},{"a":955,"b":1122,"r":47},{"a":969,"b":1122,"r":22},{"a":983,"b":1122,"r":8},{"a":997,"b":1122,"r":38},{"a":1011,"b":1122,"r":3},{"a":1025,"b":1122,"r":33},{"a":1039,"b":1122,"r":3},{"a":1053,"b":1122,"r":38},{"a":1067,"b":1122,"r":28},{"a":1080,"b":1122,"r":8},{"a":1094,"b":1122,"r":3},{"a":1108,"b":1122,"r":52},{"a":1122,"b":1122,"r":100},
{"a":941,"b":1108,"r":43},{"a":955,"b":1108,"r":52},{"a":969,"b":1108,"r":38},{"a":983,"b":1108,"r":47},{"a":997,"b":1108,"r":47},{"a":1011,"b":1108,"r":3},{"a":1025,"b":1108,"r":33},{"a":1039,"b":1108,"r":18},{"a":1053,"b":1108,"r":38},{"a":1067,"b":1108,"r":22},{"a":1080,"b":1108,"r":8},{"a":1094,"b":1108,"r":3},{"a":1108,"b":1108,"r":100},
{"a":941,"b":1094,"r":57},{"a":955,"b":1094,"r":52},{"a":969,"b":1094,"r":33},{"a":983,"b":1094,"r":13},{"a":997,"b":1094,"r":33},{"a":1011,"b":1094,"r":18},{"a":1025,"b":1094,"r":13},{"a":1039,"b":1094,"r":13},{"a":1053,"b":1094,"r":22},{"a":1067,"b":1094,"r":13},{"a":1080,"b":1094,"r":47},{"a":1094,"b":1094,"r":100},
{"a":941,"b":1080,"r":38},{"a":955,"b":1080,"r":22},{"a":969,"b":1080,"r":18},{"a":983,"b":1080,"r":38},{"a":997,"b":1080,"r":8},{"a":1011,"b":1080,"r":38},{"a":1025,"b":1080,"r":38},{"a":1039,"b":1080,"r":43},{"a":1053,"b":1080,"r":28},{"a":1067,"b":1080,"r":28},{"a":1080,"b":1080,"r":100},
{"a":941,"b":1067,"r":28},{"a":955,"b":1067,"r":52},{"a":969,"b":1067,"r":47},{"a":983,"b":1067,"r":8},{"a":997,"b":1067,"r":47},{"a":1011,"b":1067,"r":28},{"a":1025,"b":1067,"r":3},{"a":1039,"b":1067,"r":47},{"a":1053,"b":1067,"r":18},{"a":1067,"b":1067,"r":100},
{"a":941,"b":1053,"r":8},{"a":955,"b":1053,"r":8},{"a":969,"b":1053,"r":13},{"a":983,"b":1053,"r":28},{"a":997,"b":1053,"r":22},{"a":1011,"b":1053,"r":22},{"a":1025,"b":1053,"r":38},{"a":1039,"b":1053,"r":13},{"a":1053,"b":1053,"r":100},
{"a":941,"b":1039,"r":8},{"a":955,"b":1039,"r":8},{"a":969,"b":1039,"r":13},{"a":983,"b":1039,"r":43},{"a":997,"b":1039,"r":22},{"a":1011,"b":1039,"r":38},{"a":1025,"b":1039,"r":3},{"a":1039,"b":1039,"r":100},
{"a":941,"b":1025,"r":3},{"a":955,"b":1025,"r":8},{"a":969,"b":1025,"r":13},{"a":983,"b":1025,"r":18},{"a":997,"b":1025,"r":13},{"a":1011,"b":1025,"r":33},{"a":1025,"b":1025,"r":100},
{"a":941,"b":1011,"r":33},{"a":955,"b":1011,"r":28},{"a":969,"b":1011,"r":8},{"a":983,"b":1011,"r":3},{"a":997,"b":1011,"r":3},{"a":1011,"b":1011,"r":100},
{"a":941,"b":997,"r":47},{"a":955,"b":997,"r":57},{"a":969,"b":997,"r":28},{"a":983,"b":997,"r":38},{"a":997,"b":997,"r":100},
{"a":941,"b":983,"r":22},{"a":955,"b":983,"r":3},{"a":969,"b":983,"r":3},{"a":983,"b":983,"r":100},
{"a":941,"b":969,"r":38},{"a":955,"b":969,"r":52},{"a":969,"b":969,"r":100},
{"a":941,"b":955,"r":73},{"a":955,"b":955,"r":100},
{"a":941,"b":941,"r":100}
]},"layer":[{"mark":{"type":"rect","width":10.1,"height":10.2},"encoding":{"x":{"field":"a","type":"quantitative","scale":{"domain":[934.45,1643.3],"nice":false,"zero":false},"axis":{"values":[1000,1100,1200,1300,1400,1500,1600],"labelExpr":"format(datum.value/1000,'.1f')","title":"wavelength / micron","titleFontSize":18.8,"labelFontSize":18.8,"titleFontWeight":"normal","grid":false,"domain":false,"tickSize":8,"tickColor":"#333","labelPadding":3,"titlePadding":5,"labelColor":"#111","titleColor":"#111"}},"y":{"field":"b","type":"quantitative","scale":{"domain":[934.45,1643.3],"nice":false,"zero":false},"axis":{"values":[1000,1100,1200,1300,1400,1500,1600],"labelExpr":"format(datum.value/1000,'.1f')","title":"wavelength / micron","titleFontSize":18.8,"labelFontSize":18.8,"labelAngle":-90,"labelAlign":"center","labelBaseline":"bottom","titleFontWeight":"normal","grid":false,"domain":false,"tickSize":8,"tickColor":"#333","labelPadding":1,"titlePadding":6,"labelColor":"#111","titleColor":"#111"}},"color":{"field":"r","type":"quantitative","legend":null,"scale":{"type":"threshold","domain":[5.7,10.5,15.2,20,24.8,31,35.7,40.5,45.2,49.9,54.7,59.4,64.2,70.5,75.2,80,84.7,89.4,94.1],"range":["#FF0000","#FF1200","#FF2400","#FF3700","#FF4900","#FF5B00","#FF6D00","#FF8000","#FF9200","#FFA400","#FFB600","#FFC800","#FFDB00","#FFED00","#FFFF00","#FFFF1A","#FFFF4D","#FFFF80","#FFFFB3","#FFFFE6"]}}}},{"mark":{"type":"rect","width":10.1,"height":10.2},"encoding":{"x":{"field":"b","type":"quantitative"},"y":{"field":"a","type":"quantitative"},"color":{"field":"r","type":"quantitative","legend":null,"scale":{"type":"threshold","domain":[5.7,10.5,15.2,20,24.8,31,35.7,40.5,45.2,49.9,54.7,59.4,64.2,70.5,75.2,80,84.7,89.4,94.1],"range":["#FF0000","#FF1200","#FF2400","#FF3700","#FF4900","#FF5B00","#FF6D00","#FF8000","#FF9200","#FFA400","#FFB600","#FFC800","#FFDB00","#FFED00","#FFFF00","#FFFF1A","#FFFF4D","#FFFF80","#FFFFB3","#FFFFE6"]}}}}]},{"width":33,"height":499,"data":{"values":[{"lo":-0.6,"hi":5.7,"c":"#FF0000"},{"lo":5.7,"hi":10.5,"c":"#FF1200"},{"lo":10.5,"hi":15.2,"c":"#FF2400"},{"lo":15.2,"hi":20,"c":"#FF3700"},{"lo":20,"hi":24.8,"c":"#FF4900"},{"lo":24.8,"hi":31,"c":"#FF5B00"},{"lo":31,"hi":35.7,"c":"#FF6D00"},{"lo":35.7,"hi":40.5,"c":"#FF8000"},{"lo":40.5,"hi":45.2,"c":"#FF9200"},{"lo":45.2,"hi":49.9,"c":"#FFA400"},{"lo":49.9,"hi":54.7,"c":"#FFB600"},{"lo":54.7,"hi":59.4,"c":"#FFC800"},{"lo":59.4,"hi":64.2,"c":"#FFDB00"},{"lo":64.2,"hi":70.5,"c":"#FFED00"},{"lo":70.5,"hi":75.2,"c":"#FFFF00"},{"lo":75.2,"hi":80,"c":"#FFFF1A"},{"lo":80,"hi":84.7,"c":"#FFFF4D"},{"lo":84.7,"hi":89.4,"c":"#FFFF80"},{"lo":89.4,"hi":94.1,"c":"#FFFFB3"},{"lo":94.1,"hi":100.9,"c":"#FFFFE6"}]},"layer":[{"mark":{"type":"rect"},"encoding":{"y":{"field":"lo","type":"quantitative","scale":{"domain":[-6.2,106.54],"nice":false,"zero":false},"axis":{"values":[0,20,40,60,80,100],"orient":"right","labelExpr":"format(datum.value/100,'.1f')","labelAngle":-90,"labelAlign":"center","labelBaseline":"middle","labelFontSize":18.8,"labelColor":"#111","title":null,"grid":false,"domain":false,"tickSize":10,"tickColor":"#333","labelPadding":-3}},"y2":{"field":"hi"},"color":{"field":"c","type":"nominal","scale":null}}},{"mark":{"type":"rule","color":"#333","x":33,"strokeWidth":1.2},"encoding":{"y":{"datum":-0.6},"y2":{"datum":100.9}}}]}]}
